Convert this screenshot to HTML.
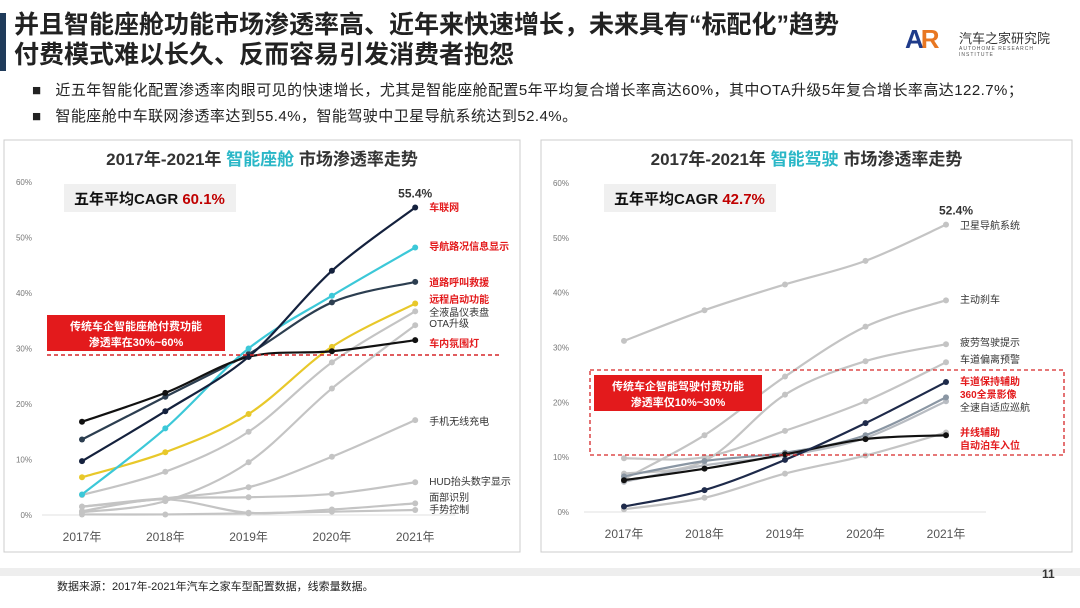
<!DOCTYPE html>
<html><head><meta charset="utf-8">
<style>
body{margin:0;width:1080px;height:608px;background:#fff;overflow:hidden;font-family:"Liberation Sans","Noto Sans CJK SC",sans-serif;position:relative}
.abs{position:absolute}
</style></head><body>
<div class="abs" style="left:0;top:13px;width:6px;height:58px;background:#1f3b5a"></div>
<div class="abs" style="left:14px;top:10px;font-size:25px;font-weight:bold;line-height:30px;color:#222">并且智能座舱功能市场渗透率高、近年来快速增长，未来具有“标配化”趋势<br>付费模式难以长久、反而容易引发消费者抱怨</div>
<div class="abs" style="left:905px;top:26px;width:160px;height:30px">
<span style="position:absolute;left:0;top:-2px;font-size:26px;font-weight:bold;color:#1f3b8a;letter-spacing:-3px">A<span style="color:#e87722">R</span></span>
<span style="position:absolute;left:54px;top:2px;font-size:13px;color:#333">汽车之家研究院</span>
<span style="position:absolute;left:54px;top:20px;font-size:5px;color:#555;letter-spacing:1px">AUTOHOME RESEARCH INSTITUTE</span></div>
<div class="abs" style="left:32px;top:79px;font-size:15px;letter-spacing:0.45px;color:#222">■&nbsp;&nbsp;&nbsp;近五年智能化配置渗透率肉眼可见的快速增长，尤其是智能座舱配置5年平均复合增长率高达60%，其中OTA升级5年复合增长率高达122.7%；</div>
<div class="abs" style="left:32px;top:105px;font-size:15px;letter-spacing:0.45px;color:#222">■&nbsp;&nbsp;&nbsp;智能座舱中车联网渗透率达到55.4%，智能驾驶中卫星导航系统达到52.4%。</div>
<div class="abs" style="left:0;top:568px;width:1080px;height:8px;background:#eee"></div>
<div class="abs" style="left:57px;top:578px;font-size:11px;color:#222">数据来源：2017年-2021年汽车之家车型配置数据，线索量数据。</div>
<div class="abs" style="left:1042px;top:567px;font-size:12px;font-weight:bold;color:#333">11</div>
<svg class="abs" style="left:0;top:0" width="1080" height="608" id="svg"></svg>
<script>
const years=["2017年","2018年","2019年","2020年","2021年"];
const yTicks=[0,10,20,30,40,50,60];
// Left chart: 智能座舱
const L_names=["车联网","导航路况信息显示","道路呼叫救援","远程启动功能","全液晶仪表盘","OTA升级","车内氛围灯","手机无线充电","HUD抬头数字显示","面部识别","手势控制"];
const L_car=[9.7,18.7,28.5,44,55.4];
const L_nav=[3.7,15.6,30,39.5,48.2];
const L_sos=[13.6,21.3,29,38.3,42];
const L_remote=[6.8,11.3,18.2,30.3,38.1];
const L_lcd=[3.6,7.8,15,27.5,36.7];
const L_ota=[0.5,2.5,9.5,22.8,34.2];
const L_ambient=[16.8,22,28.5,29.5,31.5];
const L_wireless=[1.5,3,5,10.5,17.1];
const L_hud=[1.5,3,3.2,3.8,5.9];
const L_face=[0.7,2.8,0.4,1,2.1];
const L_gesture=[0.1,0.1,0.3,0.6,0.9];
// Right chart: 智能驾驶
const R_names=["卫星导航系统","主动刹车","疲劳驾驶提示","车道偏离预警","车道保持辅助","360全景影像","全速自适应巡航","并线辅助","自动泊车入位"];
const R_gps=[31.2,36.8,41.5,45.8,52.4];
const R_brake=[6,14,24.7,33.8,38.6];
const R_fatigue=[7,9.3,21.4,27.5,30.6];
const R_ldw=[9.8,10,14.8,20.2,27.3];
const R_lka=[1,4,9.5,16.2,23.7];
const R_360=[6.5,9.3,10.8,14,20.9];
const R_acc=[5.5,8.5,10.3,13.5,20.2];
const R_merge=[5.8,7.9,10.5,13.3,14];
const R_park=[0.5,2.6,7,10.3,14.5];

const NS="http://www.w3.org/2000/svg";
const svg=document.getElementById('svg');
function mk(tag,attrs,parent){const e=document.createElementNS(NS,tag);for(const k in attrs)e.setAttribute(k,attrs[k]);(parent||svg).appendChild(e);return e;}
function txt(x,y,s,attrs,parent){const t=mk('text',Object.assign({x:x,y:y},attrs),parent);t.textContent=s;return t;}

function chart(cfg){
  const g=mk('g',{});
  
  
  const panel=mk('rect',{x:cfg.px,y:140,width:cfg.pw,height:412,fill:'#fff',stroke:'#ccc','stroke-width':1},g);
  
  
  const xs=i=>cfg.x0+i*cfg.dx;
  const ys=v=>cfg.y0-v*(cfg.y0-cfg.y60)/60;
  const title=txt(cfg.px+cfg.pw/2,165,'',{'text-anchor':'middle','font-size':17,'font-weight':'bold',fill:'#333'},g);
  title.innerHTML='2017年-2021年 <tspan fill="#2ab7c7">'+cfg.hl+'</tspan> 市场渗透率走势';
  
  
  yTicks.forEach(v=>{const t=txt(cfg.px+28,ys(v)+3,v+'%',{'text-anchor':'end','font-size':8,fill:'#777'},g);
    });
  const ax=mk('line',{x1:cfg.x0-40,x2:xs(4)+40,y1:cfg.y0,y2:cfg.y0,stroke:'#e0e0e0'},g);
  
  years.forEach((y,i)=>{const t=txt(xs(i),cfg.y0+26,y,{'text-anchor':'middle','font-size':12,fill:'#555'},g);
    });
  cfg.series.forEach(s=>{
    const P=s.v.map((v,i)=>[xs(i),ys(v)]);
    let d='M'+P[0][0]+','+P[0][1];
    for(let i=0;i<P.length-1;i++){
      const p0=P[Math.max(0,i-1)],p1=P[i],p2=P[i+1],p3=P[Math.min(P.length-1,i+2)];
      const t=1/6;
      d+=' C'+(p1[0]+(p2[0]-p0[0])*t)+','+(p1[1]+(p2[1]-p0[1])*t)+' '+(p2[0]-(p3[0]-p1[0])*t)+','+(p2[1]-(p3[1]-p1[1])*t)+' '+p2[0]+','+p2[1];
    }
    const p=mk('path',{d:d,fill:'none',stroke:s.c,'stroke-width':s.w||2.2},g);
    
    s.v.forEach((v,i)=>{const c=mk('circle',{cx:xs(i),cy:ys(v),r:3,fill:s.c},g);
      });
  });
  cfg.post(g,xs,ys);
  return g;
}
function label(g,x,y,s,col,bold){const t=txt(x,y,s,{'font-size':10,fill:col,'font-weight':bold?'bold':'normal'},g);
  }
function cagr(g,x,val){const r=mk('rect',{x:x,y:184,width:172,height:28,fill:'#f0f0f0'},g);
  
  const t=txt(x+10,204,'',{'font-size':15,'font-weight':'bold',fill:'#111'},g);t.innerHTML='五年平均CAGR <tspan fill="#c00000">'+val+'</tspan>';
  }

const gray='#c4c4c4';
chart({name:'cockpit-chart',px:4,pw:516,hl:'智能座舱',x0:82,dx:83.3,y0:515,y60:182,
 series:[{v:L_gesture,c:gray},{v:L_face,c:gray},{v:L_hud,c:gray},{v:L_wireless,c:gray},{v:L_ota,c:gray},{v:L_lcd,c:gray},
  {v:L_remote,c:'#e8c82a'},{v:L_sos,c:'#2c3e50'},{v:L_nav,c:'#3cc8d8'},{v:L_ambient,c:'#111'},{v:L_car,c:'#14213d'}],
 post:(g,xs,ys)=>{
  cagr(g,64,'60.1%');
  const dl=mk('line',{x1:47,x2:500,y1:355,y2:355,stroke:'#d62728','stroke-width':1.5,'stroke-dasharray':'4,3'},g);
  
  const b=mk('rect',{x:47,y:315,width:178,height:36,fill:'#e31a1c'},g);
  const c1=txt(136,330,'传统车企智能座舱付费功能',{'text-anchor':'middle','font-size':11,'font-weight':'bold',fill:'#fff'},g);
  
  const c2=txt(136,346,'渗透率在30%~60%',{'text-anchor':'middle','font-size':11,'font-weight':'bold',fill:'#fff'},g);
  
  const pk=txt(xs(4),ys(L_car[4])-10,L_car[4]+'%',{'text-anchor':'middle','font-size':12,'font-weight':'bold',fill:'#333'},g);
  
  const lx=xs(4)+14;const red='#e31a1c';
  label(g,lx,211,L_names[0],red,1);label(g,lx,250,L_names[1],red,1);label(g,lx,286,L_names[2],red,1);
  label(g,lx,303,L_names[3],red,1);label(g,lx,316,L_names[4],'#333');label(g,lx,327,L_names[5],'#333');
  label(g,lx,347,L_names[6],red,1);label(g,lx,425,L_names[7],'#333');label(g,lx,485,L_names[8],'#333');
  label(g,lx,501,L_names[9],'#333');label(g,lx,513,L_names[10],'#333');
 }});
chart({name:'driving-chart',px:541,pw:531,hl:'智能驾驶',x0:624,dx:80.5,y0:512,y60:183,
 series:[{v:R_gps,c:gray},{v:R_brake,c:gray},{v:R_fatigue,c:gray},{v:R_ldw,c:gray},{v:R_park,c:gray},{v:R_acc,c:'#b8bcc2'},
  {v:R_360,c:'#8a96a3'},{v:R_merge,c:'#111'},{v:R_lka,c:'#1e2a4a'}],
 post:(g,xs,ys)=>{
  cagr(g,604,'42.7%');
  const db=mk('rect',{x:590,y:370,width:474,height:85,fill:'none',stroke:'#d62728','stroke-width':1.3,'stroke-dasharray':'4,3'},g);
  
  const b=mk('rect',{x:594,y:375,width:168,height:36,fill:'#e31a1c'},g);
  const c1=txt(678,390,'传统车企智能驾驶付费功能',{'text-anchor':'middle','font-size':11,'font-weight':'bold',fill:'#fff'},g);
  
  const c2=txt(678,406,'渗透率仅10%~30%',{'text-anchor':'middle','font-size':11,'font-weight':'bold',fill:'#fff'},g);
  
  const pk=txt(xs(4)+10,ys(R_gps[4])-10,R_gps[4]+'%',{'text-anchor':'middle','font-size':12,'font-weight':'bold',fill:'#333'},g);
  
  const lx=xs(4)+14;const red='#e31a1c';
  label(g,lx,229,R_names[0],'#333');label(g,lx,303,R_names[1],'#333');label(g,lx,346,R_names[2],'#333');
  label(g,lx,363,R_names[3],'#333');label(g,lx,385,R_names[4],red,1);label(g,lx,398,R_names[5],red,1);
  label(g,lx,411,R_names[6],'#333');label(g,lx,436,R_names[7],red,1);label(g,lx,449,R_names[8],red,1);
 }});
</script>
</body></html>
